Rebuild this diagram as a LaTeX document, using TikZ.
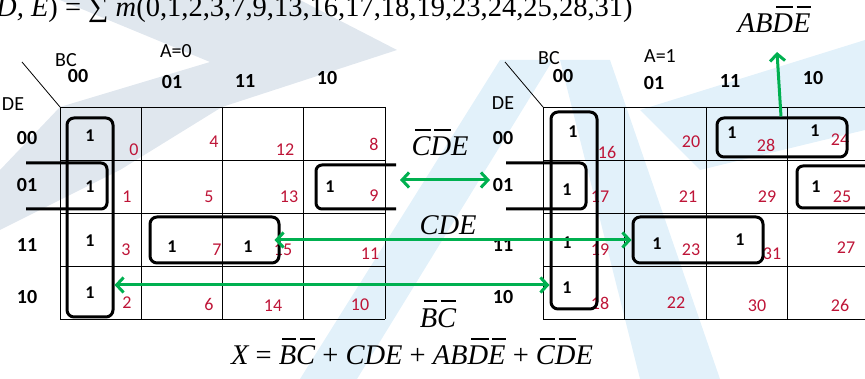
\documentclass[tikz,border=0pt]{standalone}
\usepackage{fontspec}
\setmainfont{Carlito}
\newfontfamily\tms{Liberation Serif}
\usetikzlibrary{arrows.meta}
\definecolor{mred}{RGB}{190,20,55}
\definecolor{mgreen}{RGB}{0,176,80}
\definecolor{wmgrey}{RGB}{224,231,238}
\definecolor{wmblue}{RGB}{226,241,250}
\newcommand\ovl[1]{\setbox0\hbox{#1}\rlap{\hspace{0.13em}\raisebox{0.88em}{\rule{\dimexpr\wd0-0.12em\relax}{0.05em}}}\box0\relax}
\begin{document}
\begin{tikzpicture}[x=1pt,y=-1pt,
  lbl/.style={font=\fontsize{20}{22}\selectfont, inner sep=0pt},
  hdr/.style={font=\fontsize{20}{22}\selectfont\bfseries, inner sep=0pt},
  one/.style={font=\fontsize{18}{20}\selectfont\bfseries, inner sep=0pt},
  mt/.style={font=\fontsize{18}{20}\selectfont, text=mred, inner sep=0pt},
  loopbox/.style={draw, line width=3pt, rounded corners=7pt, inner sep=0pt},
  wrap/.style={draw, line width=3pt, rounded corners=6pt},
  gline/.style={line width=0.8pt},
  garrow/.style={draw=mgreen, line width=3pt, {Straight Barb[length=7pt,width=15pt]}-{Straight Barb[length=7pt,width=15pt]}},
  gsingle/.style={draw=mgreen, line width=3pt, -{Straight Barb[length=7pt,width=15pt]}},
  eq/.style={font=\tms\fontsize{28.5}{32}\selectfont\itshape, inner sep=0pt}]
\useasboundingbox (0,0) rectangle (865,379);
\clip (0,0) rectangle (865,379);
% watermark
\fill[wmgrey] (60,0) -- (300,0) -- (397,50) -- (222,107) -- (120,170) -- (0,230) -- (0,170) -- (60,107) -- (210,62) -- cycle;
\fill[wmblue] (500,60) -- (553,60) -- (357,379) -- (300,379) -- cycle;
\fill[wmblue] (560,60) -- (640,379) -- (720,379) -- (610,60) -- cycle;
\fill[wmblue] (640,110) -- (865,40) -- (865,130) -- (700,170) -- cycle;
% grids
\foreach \x in {60,141,222,303,385} \draw[gline] (\x,107) -- (\x,319);
\foreach \y in {107,160,213,266,319} \draw[gline] (60,\y) -- (385,\y);
\foreach \x in {543,624.5,706,787} \draw[gline] (\x,107) -- (\x,319);
\foreach \y in {107,160,213,266,319} \draw[gline] (543,\y) -- (868,\y);
\draw[gline] (22,62) -- (60,107);
\draw[gline] (505,62) -- (543,107);
% headers
\node[lbl] (bcL) at (66,60) {BC};
\node[lbl] (aL) at (176,51) {A=0};
\node[lbl] (deL) at (13,104) {DE};
\node[hdr] (cL1) at (78,76) {00};
\node[hdr] (cL2) at (172,82) {01};
\node[hdr] (cL3) at (245,81) {11};
\node[hdr] (cL4) at (327,78) {10};
\node[hdr] (rL1) at (27,138) {00};
\node[hdr] (rL2) at (27,185) {01};
\node[hdr] (rL3) at (27,245) {11};
\node[hdr] (rL4) at (27,297) {10};
\node[lbl] (bcR) at (549,58) {BC};
\node[lbl] (aR) at (660,56) {A=1};
\node[lbl] (deR) at (503,103) {DE};
\node[hdr] (cR1) at (563,76) {00};
\node[hdr] (cR2) at (654,83) {01};
\node[hdr] (cR3) at (730,81) {11};
\node[hdr] (cR4) at (813,78) {10};
\node[hdr] (rR1) at (503,138) {00};
\node[hdr] (rR2) at (503,185) {01};
\node[hdr] (rR3) at (503,245) {11};
\node[hdr] (rR4) at (503,297) {10};
% minterm numbers
\foreach \n/\x/\y in {0/134/150,4/214/142,12/285/150,8/374/144,
  1/127/197,5/209/197,13/289/197,9/374/196,
  3/126/250,7/217/250,15/283/250,11/370/254,
  2/127/303,6/209/304,14/273/306,10/360/305,
  16/607/152,20/691/142,28/766/145,24/840/140,
  17/600/197,21/688/197,29/767/197,25/842/197,
  19/600/250,23/691/250,31/772/254,27/846/248,
  18/600/303,22/676/303,30/757/306,26/840/305}
  \node[mt] (m\n) at (\x,\y) {\n};
% ones
\foreach \n/\x/\y in {0/90/136,1/90/187,9/330/187,3/90/241,2/90/293,7/172/247,15/248/247,
  16/573/132,17/567/190,28/732/133,24/815/131,25/816/187,19/567/243,23/657/244,31/740/240,18/567/288}
  \node[one] (o\n) at (\x,\y) {1};
% loops
\node[loopbox, minimum width=46pt, minimum height=199pt] (gL1) at (90,217.5) {};
\node[loopbox, minimum width=129pt, minimum height=46pt] (gL2) at (214.5,240) {};
\node[loopbox, minimum width=46pt, minimum height=197pt] (gR1) at (574,210.5) {};
\node[loopbox, minimum width=130pt, minimum height=46pt] (gR2) at (698,240) {};
\node[loopbox, minimum width=130pt, minimum height=39pt] (gR3) at (782,137.5) {};
\draw[wrap] (26,163) -- (107,163) -- (107,209) -- (26,209);
\draw[wrap] (396,165) -- (316,165) -- (316,209) -- (396,209);
\draw[wrap] (506,163) -- (586,163) -- (586,209) -- (506,209);
\draw[wrap] (870,166) -- (797,166) -- (797,208) -- (870,208);
% labels
\node[eq, anchor=base west] (title) at (-4,17) {D, E\upshape) = ∑ \itshape m\upshape(0,1,2,3,7,9,13,16,17,18,19,23,24,25,28,31)};
\node[eq, anchor=base] (lab1) at (440,156) {\ovl{C}\ovl{D}E};
\node[eq, anchor=base] (lab2) at (448,235) {CDE};
\node[eq, anchor=base] (lab3) at (438,327) {\ovl{B}\ovl{C}};
\node[eq, anchor=base] (lab4) at (774,33) {AB\ovl{D}\ovl{E}};
\node[eq, anchor=base] (final) at (412,365) {X \upshape= \itshape\ovl{B}\ovl{C} \upshape+ \itshape CDE \upshape+ \itshape AB\ovl{D}\ovl{E} \upshape+ \itshape\ovl{C}\ovl{D}E};
% arrows
\coordinate (a1l) at (400,180);
\coordinate (a1r) at (490,180);
\draw[garrow] (a1l) -- (a1r);
\draw[garrow] ([xshift=-6pt]gL2.east) -- (gR2.west);
\coordinate (ybc) at (0,285);
\draw[garrow] (gL1.east |- ybc) -- (gR1.west |- ybc);
\coordinate (tipA) at (777,52);
\draw[gsingle] ([xshift=-1pt]gR3.north) -- (tipA);
\end{tikzpicture}
\end{document}
